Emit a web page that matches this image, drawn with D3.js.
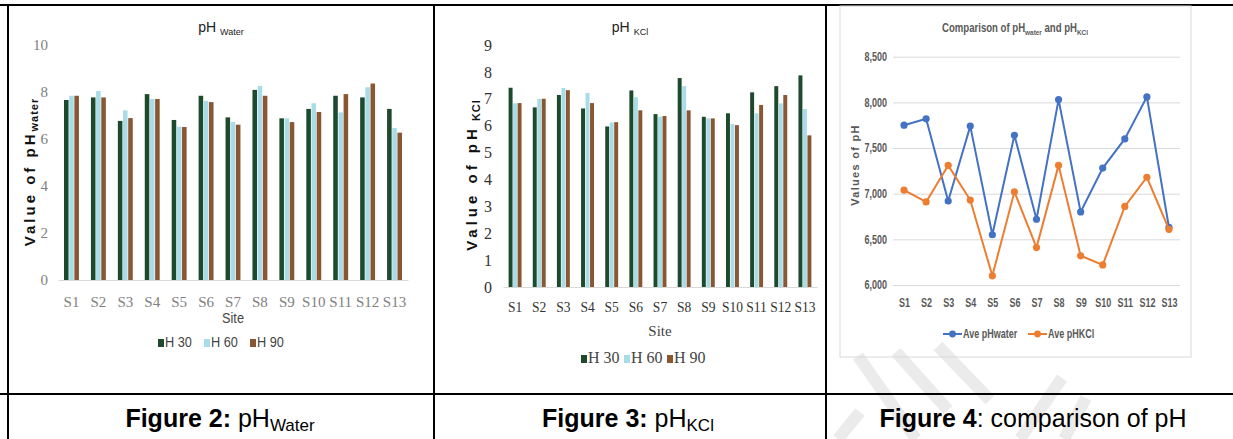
<!DOCTYPE html>
<html>
<head>
<meta charset="utf-8">
<script src="https://cdn.jsdelivr.net/npm/d3@7"></script>
<style>
  body { margin: 0; background: #fff; }
  svg { display: block; }
</style>
</head>
<body>
<svg id="figs" width="1233" height="439"></svg>
<script>
// ************************************
// Data
// ************************************
const sites = ["S1","S2","S3","S4","S5","S6","S7","S8","S9","S10","S11","S12","S13"];
const depths = ["H 30", "H 60", "H 90"];

// pH water by depth
const waterH30 = [7.66, 7.77, 6.77, 7.91, 6.81, 7.84, 6.92, 8.09, 6.88, 7.28, 7.84, 7.77, 7.28];
const waterH60 = [7.84, 8.04, 7.22, 7.70, 6.52, 7.62, 6.72, 8.26, 6.88, 7.52, 7.13, 8.20, 6.47];
const waterH90 = [7.84, 7.77, 6.89, 7.70, 6.51, 7.57, 6.61, 7.84, 6.72, 7.15, 7.91, 8.36, 6.27];

// pH KCl by depth
const kclH30 = [7.41, 6.68, 7.14, 6.64, 5.97, 7.31, 6.43, 7.77, 6.33, 6.46, 7.24, 7.47, 7.87];
const kclH60 = [6.83, 7.00, 7.40, 7.22, 6.12, 7.06, 6.33, 7.47, 6.27, 6.06, 6.46, 6.83, 6.62];
const kclH90 = [6.84, 7.00, 7.32, 6.84, 6.13, 6.57, 6.36, 6.57, 6.27, 6.02, 6.77, 7.14, 5.64];

// averages (figure 4)
const avePhWater = [7.75, 7.82, 6.92, 7.74, 6.55, 7.64, 6.72, 8.03, 6.80, 7.28, 7.60, 8.06, 6.63];
const avePhKcl   = [7.04, 6.91, 7.31, 6.93, 6.10, 7.02, 6.41, 7.31, 6.32, 6.22, 6.86, 7.18, 6.61];

const waterTicks = [0, 2, 4, 6, 8, 10];
const kclTicks = [0, 1, 2, 3, 4, 5, 6, 7, 8, 9];
const cmpTicks = [6, 6.5, 7, 7.5, 8, 8.5];
const cmpTickLabels = ["6,000", "6,500", "7,000", "7,500", "8,000", "8,500"];

const depthColors = ["#1d4a2c", "#a8dce8", "#8a5733"];
const lineColors = ["#4472c4", "#ed7d31"];

const sans = "Liberation Sans, Arial, sans-serif";
const serif = "Liberation Serif, serif";

const svg = d3.select("#figs");

// squeeze plain text horizontally to mimic a narrow font
function condense(sel, f) {
    sel.each(function() {
        const L = this.getComputedTextLength();
        d3.select(this).attr("textLength", L * f).attr("lengthAdjust", "spacingAndGlyphs");
    });
}

// ************************************
// Table frame
// ************************************
const wm = svg.append("g").attr("stroke", "#ebebeb").attr("stroke-width", 12).attr("fill", "none");
[[858, 356, 916, 439], [896, 352, 948, 410], [938, 346, 990, 400],
 [1062, 378, 1020, 439], [1086, 398, 1064, 439], [860, 412, 838, 439]].forEach(s => {
    wm.append("line").attr("x1", s[0]).attr("y1", s[1]).attr("x2", s[2]).attr("y2", s[3]);
});

const frame = svg.append("g").attr("stroke", "#000").attr("stroke-width", 2);
frame.append("line").attr("x1", 0).attr("x2", 1233).attr("y1", 5).attr("y2", 5);
frame.append("line").attr("x1", 0).attr("x2", 1233).attr("y1", 394).attr("y2", 394);
[8, 434, 826].forEach(xx => {
    frame.append("line").attr("x1", xx).attr("x2", xx).attr("y1", 4).attr("y2", 439);
});

// ************************************
// Grouped bar chart helper
// ************************************
function barChart(opt) {
    const g = svg.append("g");
    const rows = sites.map((s, i) => ({ site: s, vals: opt.series.map(a => a[i]) }));

    const x0 = d3.scaleBand().domain(sites).range(opt.xRange)
        .paddingInner(opt.pad).paddingOuter(opt.pad / 2);
    const x1 = d3.scaleBand().domain(d3.range(3)).range([0, x0.bandwidth()]).padding(0.12);
    const y = d3.scaleLinear().domain([0, d3.max(opt.ticks)]).range(opt.yRange);

    // title
    const t = g.append("text").attr("x", opt.titleX).attr("y", 32)
        .attr("text-anchor", "middle").attr("font-family", sans)
        .attr("font-size", 14).attr("fill", "#222");
    t.append("tspan").text("pH");
    t.append("tspan").attr("dx", 4).attr("dy", 3).attr("font-size", 9).text(opt.sub);

    // y labels
    const yAxis = g.append("g").attr("transform", `translate(${opt.xRange[0]},0)`)
        .call(d3.axisLeft(y).tickValues(opt.ticks).tickSize(0).tickPadding(opt.yPad).tickFormat(d3.format("d")));
    yAxis.select(".domain").remove();
    yAxis.selectAll("text").attr("font-family", serif)
        .attr("font-size", opt.fs).attr("fill", opt.tickColor);

    // bars
    g.selectAll(".grp").data(rows).enter().append("g")
        .attr("transform", d => `translate(${x0(d.site)},0)`)
        .selectAll("rect").data(d => d.vals).enter().append("rect")
        .attr("x", (d, i) => x1(i))
        .attr("width", x1.bandwidth())
        .attr("y", d => y(d))
        .attr("height", d => y(0) - y(d))
        .attr("fill", (d, i) => depthColors[i]);

    // x axis
    const xAxis = g.append("g").attr("transform", `translate(0,${y(0)})`)
        .call(d3.axisBottom(x0).tickSize(0).tickPadding(opt.xPad));
    xAxis.select(".domain").attr("stroke", "#d9d9d9");
    xAxis.selectAll("text").attr("font-family", serif)
        .attr("font-size", opt.xfs).attr("fill", opt.tickColor);
    if (opt.xSqueeze) condense(xAxis.selectAll("text"), opt.xSqueeze);

    // axis titles
    const st = g.append("text").attr("x", d3.mean(opt.xRange)).attr("y", opt.siteY)
        .attr("text-anchor", "middle").attr("font-family", opt.siteFont)
        .attr("font-size", 15).attr("fill", "#444").text("Site");
    if (opt.siteFont === sans) condense(st, 0.85);

    const yt = g.append("text")
        .attr("transform", `translate(${opt.yTitleX},${opt.yTitleY}) rotate(-90)`)
        .attr("text-anchor", "middle").attr("font-family", sans)
        .attr("font-size", 15).attr("font-weight", "bold").attr("letter-spacing", opt.yTitleLs).attr("fill", "#111");
    yt.append("tspan").text("Value of pH");
    yt.append("tspan").attr("dy", 3).attr("font-size", 11).attr("letter-spacing", 1).text(opt.ySub);

    // legend
    const lg = g.append("g").attr("transform", `translate(${opt.legX},${opt.legY})`);
    depths.forEach((d, i) => {
        const lx = i * opt.legStep;
        lg.append("rect").attr("x", lx).attr("y", -8).attr("width", 6).attr("height", 8).attr("fill", depthColors[i]);
        const tx = lg.append("text").attr("x", lx + 7).attr("y", 0)
            .attr("font-family", opt.legFont).attr("font-size", opt.legFs).attr("fill", "#444").text(d);
        if (opt.legFont === sans) condense(tx, 0.85);
    });
}

barChart({
    series: [waterH30, waterH60, waterH90], ticks: waterTicks, sub: "Water", titleX: 221,
    xRange: [58, 408], yRange: [280, 45], pad: 0.4, fs: 15, xfs: 15, tickColor: "#808080",
    yPad: 10, xPad: 16, siteY: 323, siteFont: sans,
    yTitleX: 35, yTitleY: 172, yTitleLs: 3, ySub: "water",
    legX: 158, legY: 347, legStep: 46, legFont: sans, legFs: 15
});

barChart({
    series: [kclH30, kclH60, kclH90], ticks: kclTicks, sub: "KCl", titleX: 630,
    xRange: [503, 817], yRange: [287, 45], pad: 0.42, fs: 16, xfs: 15, xSqueeze: 0.9, tickColor: "#333",
    yPad: 11, xPad: 14, siteY: 336, siteFont: serif,
    yTitleX: 477, yTitleY: 175, yTitleLs: 4, ySub: " KCl",
    legX: 581, legY: 363, legStep: 43, legFont: serif, legFs: 16
});

// ************************************
// Figure 4: line comparison
// ************************************
const g4 = svg.append("g");
g4.append("rect").attr("x", 840).attr("y", 6).attr("width", 351).attr("height", 351)
    .attr("fill", "none").attr("stroke", "#d9d9d9");

const xp = d3.scalePoint().domain(sites).range([893, 1180]).padding(0.5);
const yl = d3.scaleLinear().domain([6, 8.5]).range([285, 56.7]);

const ttl = g4.append("g").attr("transform", "translate(1015,32) scale(0.8,1)")
    .append("text").attr("text-anchor", "middle")
    .attr("font-family", sans).attr("font-size", 12).attr("font-weight", "bold").attr("fill", "#595959");
ttl.append("tspan").text("Comparison of pH");
ttl.append("tspan").attr("dy", 3).attr("font-size", 8).text("water");
ttl.append("tspan").attr("dy", -3).text(" and  pH");
ttl.append("tspan").attr("dy", 3).attr("font-size", 8).text("KCl");

const ya4 = g4.append("g").attr("transform", "translate(1180,0)")
    .call(d3.axisLeft(yl).tickValues(cmpTicks).tickSize(1180 - 893).tickPadding(6)
        .tickFormat((d, i) => cmpTickLabels[i]));
ya4.select(".domain").remove();
ya4.selectAll("line").attr("stroke", "#d9d9d9");
ya4.selectAll("text").attr("font-family", sans).attr("font-size", 12)
    .attr("font-weight", "bold").attr("fill", "#595959");
condense(ya4.selectAll("text"), 0.75);

const xa4 = g4.append("g").attr("transform", `translate(0,${yl(6)})`)
    .call(d3.axisBottom(xp).tickSize(0).tickPadding(13));
xa4.select(".domain").remove();
xa4.selectAll("text").attr("font-family", sans).attr("font-size", 12)
    .attr("font-weight", "bold").attr("fill", "#595959");
condense(xa4.selectAll("text"), 0.75);

g4.append("text").attr("transform", `translate(859,165) rotate(-90)`).attr("text-anchor", "middle")
    .attr("font-family", sans).attr("font-size", 11)
    .attr("font-weight", "bold").attr("letter-spacing", 1.3).attr("fill", "#595959").text("Values of pH");

const line = d3.line().x((d, i) => xp(sites[i])).y(d => yl(d));
[avePhWater, avePhKcl].forEach((s, k) => {
    g4.append("path").datum(s).attr("d", line).attr("fill", "none")
        .attr("stroke", lineColors[k]).attr("stroke-width", 2);
    g4.selectAll(null).data(s).enter().append("circle")
        .attr("cx", (d, i) => xp(sites[i])).attr("cy", d => yl(d)).attr("r", 3.6)
        .attr("fill", lineColors[k]);
});

const leg4 = [["Ave pHwater", 943], ["Ave pHKCl", 1028]];
leg4.forEach((l, k) => {
    g4.append("line").attr("x1", l[1]).attr("x2", l[1] + 19).attr("y1", 334).attr("y2", 334)
        .attr("stroke", lineColors[k]).attr("stroke-width", 2);
    g4.append("circle").attr("cx", l[1] + 9.5).attr("cy", 334).attr("r", 3.4).attr("fill", lineColors[k]);
    const lt = g4.append("text").attr("x", l[1] + 20).attr("y", 338).attr("font-family", sans)
        .attr("font-size", 12).attr("font-weight", "bold").attr("fill", "#595959").text(l[0]);
    condense(lt, 0.75);
});

// ************************************
// Captions
// ************************************
function caption(cx, bold, rest, sub) {
    const t = svg.append("text").attr("x", cx).attr("y", 427).attr("text-anchor", "middle")
        .attr("font-family", sans).attr("font-size", 25).attr("fill", "#000");
    t.append("tspan").attr("font-weight", "bold").text(bold);
    t.append("tspan").text(rest);
    if (sub) t.append("tspan").attr("dy", 4).attr("font-size", 17).text(sub);
}
caption(220, "Figure 2:", " pH", "Water");
caption(628, "Figure 3:", " pH", "KCl");
caption(1033, "Figure 4", ": comparison of pH", null);
</script>
</body>
</html>
